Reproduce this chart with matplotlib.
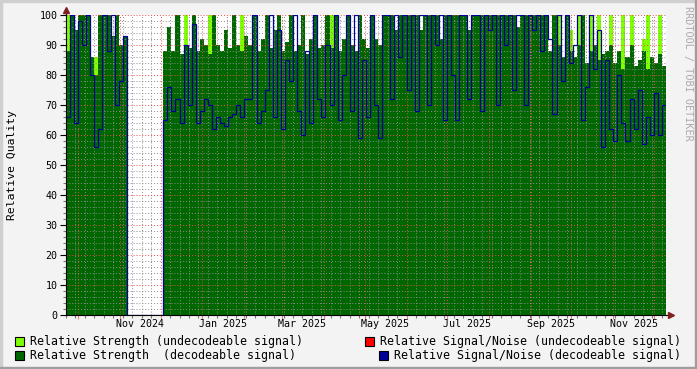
import datetime as dt
import numpy as np
import matplotlib
matplotlib.use("Agg")
import matplotlib.pyplot as plt
import matplotlib.dates as mdates
from matplotlib.ticker import MultipleLocator
from matplotlib.patches import Rectangle

# one value every 3 days, starting 2024-09-22
start = dt.datetime(2024, 9, 22)
step_days = 3

# Relative Strength (decodeable signal)
strength_dec = [88, 100, 95, 100, 100, 100, 86, 80, 100, 100, 100, 93, 100, 90, 93,
                0, 0, 0, 0, 0, 0, 0, 0, 0,
                88, 96, 88, 100, 87, 90, 89, 100, 88, 92, 90,
                87, 100, 90, 88, 95, 89, 100, 90, 88, 93,
                90, 100, 88, 92, 100, 89, 95, 100, 88, 91,
                100, 88, 90, 100, 87, 92, 100, 89, 90, 100,
                89, 100, 88, 92, 100, 90, 88, 100, 92, 89,
                100, 92, 90, 100, 100, 100, 95, 100, 100, 100,
                100, 100, 95, 100, 100, 100, 100, 92, 100, 100,
                100, 100, 100, 100, 95, 100, 100, 100, 100, 100,
                100, 100, 100, 100, 100, 100, 96, 100, 100, 100,
                100, 100, 100, 100, 88, 100, 90, 86, 100, 88,
                86, 90, 100, 84, 88, 90, 85, 87, 88, 90,
                84, 88, 82, 86, 90, 83, 85, 88, 82, 86, 84, 87, 83, 86]

# Relative Strength (undecodeable signal)
strength_undec = [100, 0, 0, 0, 0, 0, 0, 86, 0, 0, 0, 0, 0, 0, 0,
                  0, 0, 0, 0, 0, 0, 0, 0, 0,
                  0, 0, 0, 100, 0, 100, 0, 0, 0, 0, 0,
                  100, 0, 0, 0, 0, 0, 0, 0, 100, 0,
                  0, 0, 0, 0, 0, 0, 95, 0, 0, 0,
                  0, 0, 0, 0, 0, 0, 0, 0, 0, 0,
                  100, 0, 0, 0, 0, 0, 0, 0, 0, 0,
                  0, 0, 0, 0, 0, 0, 0, 0, 0, 0,
                  0, 0, 0, 0, 0, 0, 0, 0, 0, 0,
                  0, 0, 0, 0, 0, 0, 0, 0, 0, 0,
                  0, 0, 0, 0, 0, 0, 0, 0, 0, 0,
                  0, 0, 0, 0, 0, 0, 100, 0, 0, 95,
                  0, 100, 0, 0, 100, 0, 100, 0, 0, 100,
                  0, 0, 100, 0, 100, 0, 0, 92, 100, 0, 0, 100, 0, 95]

# Relative Signal/Noise (decodeable signal)
snr_dec = [66, 100, 64, 98, 90, 100, 80, 56, 62, 100, 88, 100, 70, 78, 93,
           0, 0, 0, 0, 0, 0, 0, 0, 0,
           65, 76, 68, 72, 64, 90, 70, 97, 64, 68, 72,
           70, 62, 66, 64, 63, 66, 67, 70, 66, 72,
           72, 100, 64, 68, 75, 100, 66, 95, 62, 85,
           78, 100, 68, 60, 88, 64, 100, 72, 66, 90,
           70, 100, 65, 80, 100, 68, 100, 59, 85, 66,
           100, 70, 59, 100, 100, 72, 100, 86, 100, 75,
           100, 68, 100, 100, 70, 100, 90, 100, 65, 100,
           80, 65, 100, 100, 72, 100, 100, 68, 100, 95,
           100, 70, 100, 90, 100, 75, 100, 100, 70, 100,
           95, 100, 88, 100, 92, 67, 100, 78, 100, 84,
           90, 100, 65, 76, 100, 82, 95, 56, 85, 62,
           58, 80, 64, 58, 72, 62, 75, 57, 66, 60, 74, 60, 70, 74]

month_labels = ["Nov 2024", "Jan 2025", "Mar 2025", "May 2025",
                "Jul 2025", "Sep 2025", "Nov 2025"]
label_months = [(2024, 11), (2025, 1), (2025, 3), (2025, 5),
                (2025, 7), (2025, 9), (2025, 11)]

c_light = "#80ff00"
c_dark = "#006600"
c_red = "#ff0000"
c_blue = "#000099"
mono = "DejaVu Sans Mono"

n = len(strength_dec)
t0 = mdates.date2num(start)
edges = t0 + step_days * np.arange(n + 1)

fig = plt.figure(figsize=(6.97, 3.69), dpi=100, facecolor="#f3f3f3")
ax = fig.add_axes([66 / 697, 54 / 369, 600 / 697, 300 / 369])
ax.set_facecolor("white")

ax.stairs(strength_undec, edges, fill=True, color=c_light, zorder=1)
ax.stairs(strength_dec, edges, fill=True, color=c_dark, zorder=2)
ax.stairs(snr_dec, edges, baseline=None, color=c_blue, linewidth=0.9, zorder=4)

ax.set_xlim(t0, t0 + 444)
ax.set_ylim(0, 100)

# grid
ax.xaxis.set_major_locator(mdates.MonthLocator())
ax.xaxis.set_minor_locator(mdates.WeekdayLocator(byweekday=mdates.SU))
ax.yaxis.set_major_locator(MultipleLocator(10))
ax.yaxis.set_minor_locator(MultipleLocator(2))
ax.grid(True, which="minor", color=(0.55, 0.55, 0.55, 0.22), linestyle=(0, (1, 2)), linewidth=0.7, zorder=3)
ax.grid(True, which="major", color=(0.9, 0.3, 0.3, 0.4), linestyle=(0, (1, 2)), linewidth=0.7, zorder=3)
ax.set_axisbelow(False)
ax.xaxis.set_major_formatter(plt.NullFormatter())
ax.xaxis.set_minor_formatter(plt.NullFormatter())
ax.tick_params(axis="both", which="both", direction="out", length=2, width=0.8, colors="#777777")
ax.tick_params(axis="x", which="major", length=3, colors="#dd8080")
ax.tick_params(axis="y", which="major", length=4, colors="black", labelsize=7.2, pad=2)
for lab in ax.get_yticklabels():
    lab.set_fontfamily(mono)
    lab.set_color("black")

for (yy, mm), txt in zip(label_months, month_labels):
    pos = mdates.date2num(dt.datetime(yy, mm, 1)) + 15
    ax.text(pos, -0.014, txt, transform=ax.get_xaxis_transform(), ha="center", va="top",
            fontsize=7.2, fontfamily=mono)

for side in ["top", "right"]:
    ax.spines[side].set_visible(False)
for side in ["left", "bottom"]:
    ax.spines[side].set_color("black")
    ax.spines[side].set_linewidth(0.8)
    ax.spines[side].set_zorder(5)

# axis arrows
ax.plot([1.0, 1.006], [0, 0], color="black", lw=0.8, transform=ax.transAxes, clip_on=False)
ax.plot([0, 0], [1.0, 1.01], color="black", lw=0.8, transform=ax.transAxes, clip_on=False)
ax.plot(1.009, 0, marker=">", color="#802020", markersize=4, transform=ax.transAxes, clip_on=False)
ax.plot(0, 1.018, marker="^", color="#802020", markersize=4, transform=ax.transAxes, clip_on=False)

fig.text(12 / 697, 1 - 165 / 369, "Relative Quality", rotation=90, ha="center", va="center",
         fontsize=8.2, fontfamily=mono)
fig.text(688 / 697, 1 - 73 / 369, "RRDTOOL / TOBI OETIKER", rotation=270, ha="center", va="center",
         fontsize=7.3, fontfamily=mono, color="#aaaaaa")

# legend
def legend_item(x_box, y, color, text):
    fig.patches.append(Rectangle((x_box / 697, 1 - (y + 5) / 369), 9 / 697, 9 / 369,
                                 transform=fig.transFigure, facecolor=color,
                                 edgecolor="black", linewidth=0.8))
    fig.text((x_box + 15) / 697, 1 - y / 369, text, ha="left", va="center",
             fontsize=8.4, fontfamily=mono)

legend_item(15, 341, c_light, "Relative Strength (undecodeable signal)")
legend_item(15, 355, c_dark, "Relative Strength  (decodeable signal)")
legend_item(365, 341, c_red, "Relative Signal/Noise (undecodeable signal)")
legend_item(379, 355, c_blue, "Relative Signal/Noise (decodeable signal)")

# 3d frame
fig.patches.append(Rectangle((0, 1 - 2 / 369), 1, 2 / 369, transform=fig.transFigure, color="#cfcfcf"))
fig.patches.append(Rectangle((0, 0), 2 / 697, 1, transform=fig.transFigure, color="#cfcfcf"))
fig.patches.append(Rectangle((0, 0), 1, 2 / 369, transform=fig.transFigure, color="#9e9e9e"))
fig.patches.append(Rectangle((1 - 2 / 697, 0), 2 / 697, 1, transform=fig.transFigure, color="#9e9e9e"))

fig.savefig("out.png", dpi=100, facecolor=fig.get_facecolor())
